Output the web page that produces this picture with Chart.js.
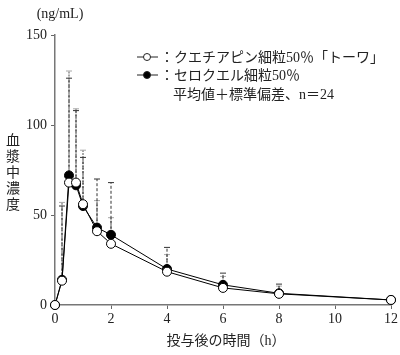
<!DOCTYPE html>
<html><head><meta charset="utf-8">
<script src="https://cdn.jsdelivr.net/npm/chart.js@4"></script>
<style>html,body{margin:0;padding:0;background:#fff}#wrap{width:400px;height:355px;position:relative}</style>
</head><body><div id="wrap"><canvas id="c" width="400" height="355"></canvas></div>
<script>
const times = [0, 0.25, 0.5, 0.75, 1, 1.5, 2, 4, 6, 8, 12];
const towaMean = [0, 13.5, 68, 68, 56, 41, 34, 18.5, 9.5, 6.2, 2.8];
const towaSD = [0, 41.5, 58, 40, 26, 29, 34, 13.5, 8.2, 5.4, 0];
const seroMean = [0, 14, 72, 66.5, 55, 43, 39, 20, 11.2, 6.5, 2.8];
const seroSD = [0, 43, 58, 42.5, 31, 15, 9.5, 8, 4.7, 4, 0];
const xTicks = [0, 2, 4, 6, 8, 10, 12];
const yTicks = [0, 50, 100, 150];
const legendLabels = ['：クエチアピン細粒50％「トーワ」', '：セロクエル細粒50％', '平均値＋標準偏差、n＝24'];
const yTitle = ['血', '漿', '中', '濃', '度'];
const xTitle = '投与後の時間（h）';
const yUnit = '(ng/mL)';

const FONT = "'Liberation Serif','Noto Sans CJK JP',serif";
const toPts = (m) => times.map((t, i) => ({x: t, y: m[i]}));

const errPlugin = {
  id: 'err',
  beforeDatasetsDraw(chart) {
    const {ctx, scales: {x, y}} = chart;
    const sets = [
      {mean: seroMean, sd: seroSD, color: '#a8a8a8', w: 2, dash: [2, 1]},
      {mean: towaMean, sd: towaSD, color: '#333', w: 1, dash: [3, 2]}
    ];
    ctx.save();
    sets.forEach(s => {
      times.forEach((t, i) => {
        if (!s.sd[i]) return;
        const px = x.getPixelForValue(t);
        const y0 = y.getPixelForValue(s.mean[i]);
        const y1 = y.getPixelForValue(s.mean[i] + s.sd[i]);
        ctx.strokeStyle = s.color; ctx.lineWidth = s.w; ctx.setLineDash(s.dash);
        ctx.beginPath(); ctx.moveTo(px, y0); ctx.lineTo(px, y1); ctx.stroke();
        ctx.setLineDash([]); ctx.lineWidth = 1;
        ctx.beginPath(); ctx.moveTo(px - 3, y1); ctx.lineTo(px + 3, y1); ctx.stroke();
      });
    });
    ctx.restore();
  },
  afterDraw(chart) {
    const ctx = chart.ctx;
    ctx.save();
    ctx.fillStyle = '#222'; ctx.strokeStyle = '#222';
    ctx.font = "14px " + FONT;
    ctx.textBaseline = 'middle';
    ctx.textAlign = 'center';
    ctx.fillText(yUnit, 60, 14);
    ctx.font = "14px 'Noto Sans CJK JP'";
    yTitle.forEach((ch, i) => ctx.fillText(ch, 13, 140 + i * 16));
    ctx.font = "14px " + FONT;
    ctx.fillText(xTitle, 226, 341);
    ctx.textAlign = 'left';
    const ly = [57, 75, 94];
    ctx.lineWidth = 1;
    [0, 1].forEach(i => {
      ctx.beginPath(); ctx.moveTo(137, ly[i]); ctx.lineTo(158, ly[i]); ctx.stroke();
      ctx.beginPath(); ctx.arc(147, ly[i], 3.5, 0, Math.PI * 2);
      ctx.fillStyle = i === 0 ? '#fff' : '#000'; ctx.fill(); ctx.stroke();
      ctx.fillStyle = '#222';
      ctx.fillText(legendLabels[i], 160, ly[i] + 1);
    });
    ctx.fillText(legendLabels[2], 173, ly[2] + 1);
    ctx.restore();
  }
};

new Chart(document.getElementById('c'), {
  type: 'line',
  data: {
    datasets: [
      {label: 'towa', data: toPts(towaMean), borderColor: '#000', borderWidth: 1, backgroundColor: '#fff',
        pointBackgroundColor: '#fff', pointBorderColor: '#000', pointRadius: 4.5, pointBorderWidth: 1, tension: 0, clip: false},
      {label: 'seroquel', data: toPts(seroMean), borderColor: '#000', borderWidth: 1, backgroundColor: '#000',
        pointBackgroundColor: '#000', pointBorderColor: '#000', pointRadius: 4.5, pointBorderWidth: 1, tension: 0, clip: false}
    ]
  },
  options: {
    responsive: false, animation: false,
    layout: {padding: {left: 0, top: 35, right: 6, bottom: 0}},
    plugins: {legend: {display: false}, tooltip: {enabled: false}},
    scales: {
      x: {type: 'linear', min: 0, max: 12,
        afterBuildTicks: (s) => { s.ticks = xTicks.map(v => ({value: v})); },
        afterFit: (s) => { s.height = 50; },
        grid: {drawOnChartArea: false, drawTicks: true, tickLength: 4, color: '#666'},
        border: {color: '#777', width: 1.5},
        ticks: {color: '#222', font: {family: FONT, size: 14}, padding: 2, maxRotation: 0}
      },
      y: {type: 'linear', min: 0, max: 150,
        afterBuildTicks: (s) => { s.ticks = yTicks.map(v => ({value: v})); },
        afterFit: (s) => { s.width = 55; },
        grid: {drawOnChartArea: false, drawTicks: true, tickLength: 4, color: '#666'},
        border: {color: '#777', width: 1.5},
        ticks: {color: '#222', font: {family: FONT, size: 14}, padding: 4}
      }
    }
  },
  plugins: [errPlugin]
});
</script></body></html>
